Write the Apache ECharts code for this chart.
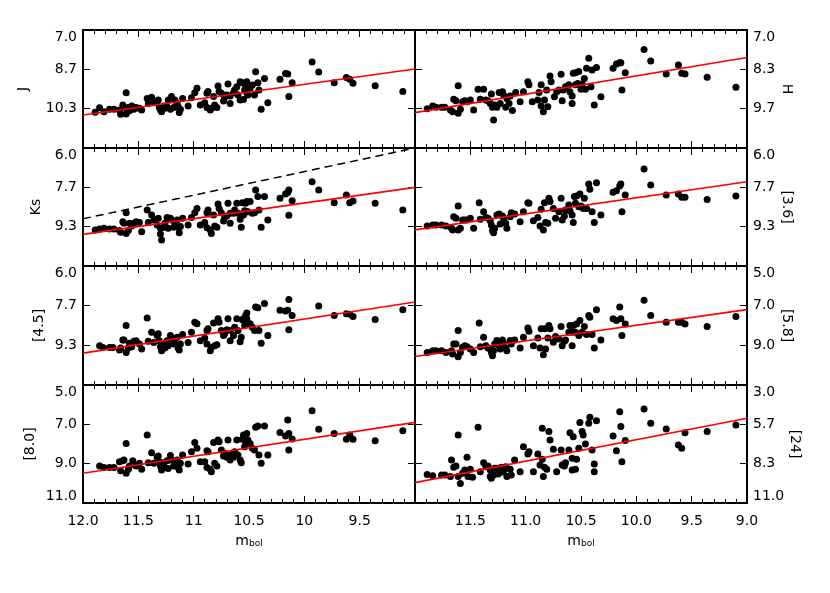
<!DOCTYPE html>
<html>
<head>
<meta charset="utf-8">
<script src="https://cdn.jsdelivr.net/npm/echarts@6/dist/echarts.min.js"></script>
<style>
  html, body { margin: 0; padding: 0; background: #fff; }
  #main { width: 830px; height: 593px; }
</style>
</head>
<body>
<div id="main"></div>
<script>
// x: m_bol (shared by all panels), y: magnitude in each band
const mbolTicks = [12, 11.5, 11, 10.5, 10, 9.5, 9]
const xLabelsLeft = ['12.0', '11.5', '11', '10.5', '10', '9.5', '']
const xLabelsRight = ['', '11.5', '11.0', '10.5', '10.0', '9.5', '9.0']

const bands = ['J', 'H', 'Ks', '[3.6]', '[4.5]', '[5.8]', '[8.0]', '[24]']
const yMin = [7, 7, 6, 6, 6, 5, 5, 3]
const yMax = [12, 11, 11, 11, 11, 11, 11, 11]
const yTicks = [
  [7.0, 8.6667, 10.3333, 12.0],
  [7.0, 8.3333, 9.6667, 11.0],
  [6.0, 7.6667, 9.3333, 11.0],
  [6.0, 7.6667, 9.3333, 11.0],
  [6.0, 7.6667, 9.3333, 11.0],
  [5.0, 7.0, 9.0, 11.0],
  [5.0, 7.0, 9.0, 11.0],
  [3.0, 5.6667, 8.3333, 11.0]
]

const jData = [[11.89,10.49],[11.85,10.29],[11.81,10.46],[11.76,10.36],[11.72,10.36],[11.67,10.39],[11.66,10.57],[11.64,10.18],[11.63,10.28],[11.61,9.66],[11.61,10.56],[11.59,10.28],[11.58,10.42],[11.56,10.22],[11.54,10.36],[11.52,10.28],[11.49,10.32],[11.47,10.39],[11.42,9.90],[11.41,10.11],[11.38,9.85],[11.36,10.08],[11.33,10.04],[11.32,9.97],[11.31,10.28],[11.30,10.39],[11.29,10.46],[11.27,10.22],[11.26,10.32],[11.24,10.25],[11.23,9.97],[11.21,10.36],[11.20,9.82],[11.18,10.28],[11.17,9.97],[11.15,10.11],[11.14,10.25],[11.13,10.50],[11.12,10.36],[11.10,9.90],[11.05,10.22],[11.02,9.87],[10.99,9.66],[10.97,9.47],[10.94,10.18],[10.90,10.08],[10.88,9.68],[10.88,10.28],[10.87,9.61],[10.85,10.39],[10.84,10.32],[10.82,9.82],[10.81,10.18],[10.79,10.28],[10.78,9.37],[10.77,9.61],[10.75,9.68],[10.73,10.01],[10.72,9.85],[10.70,9.75],[10.69,9.29],[10.67,9.80],[10.67,10.11],[10.64,9.66],[10.63,9.54],[10.61,9.40],[10.60,9.75],[10.58,9.97],[10.58,9.19],[10.56,9.23],[10.55,9.94],[10.54,9.54],[10.53,9.40],[10.52,9.19],[10.52,9.66],[10.51,9.75],[10.49,9.47],[10.47,9.33],[10.45,9.75],[10.44,8.77],[10.42,9.23],[10.41,9.54],[10.39,10.36],[10.36,9.05],[10.33,10.08],[10.22,9.09],[10.17,8.84],[10.15,8.86],[10.14,9.82],[10.11,9.23],[9.93,8.36],[9.87,8.78],[9.73,9.23],[9.62,9.01],[9.59,9.09],[9.56,9.26],[9.36,9.36],[9.11,9.61]]

const hData = [[11.89,9.67],[11.84,9.58],[11.81,9.62],[11.76,9.62],[11.73,9.62],[11.68,9.71],[11.66,9.77],[11.65,9.35],[11.63,9.40],[11.61,8.89],[11.61,9.82],[11.59,9.69],[11.57,9.43],[11.55,9.40],[11.53,9.43],[11.50,9.37],[11.47,9.71],[11.43,9.01],[11.41,9.35],[11.38,9.01],[11.36,9.37],[11.34,9.40],[11.32,9.49],[11.31,9.17],[11.30,9.62],[11.29,10.05],[11.28,9.54],[11.26,9.62],[11.24,9.12],[11.23,9.49],[11.21,9.09],[11.20,9.20],[11.18,9.62],[11.17,9.32],[11.15,9.49],[11.14,9.24],[11.12,9.73],[11.09,9.12],[11.05,9.43],[11.02,9.09],[10.98,8.75],[10.97,8.86],[10.94,9.43],[10.89,9.37],[10.88,9.12],[10.86,9.58],[10.86,8.86],[10.84,9.77],[10.83,9.37],[10.81,9.03],[10.80,9.60],[10.78,8.56],[10.77,8.75],[10.74,9.26],[10.72,9.09],[10.70,9.03],[10.68,8.50],[10.67,9.40],[10.66,9.03],[10.64,8.92],[10.61,8.86],[10.60,9.09],[10.58,9.24],[10.58,9.49],[10.57,8.47],[10.55,8.86],[10.55,8.45],[10.53,8.81],[10.52,8.41],[10.50,9.01],[10.49,8.83],[10.47,8.64],[10.46,9.01],[10.45,8.30],[10.43,7.96],[10.41,8.92],[10.40,8.36],[10.38,9.54],[10.36,8.27],[10.32,9.26],[10.21,8.30],[10.18,8.15],[10.15,8.11],[10.14,8.11],[10.13,9.03],[10.10,8.45],[9.93,7.66],[9.87,8.05],[9.73,8.49],[9.62,8.19],[9.59,8.47],[9.56,8.49],[9.36,8.60],[9.10,8.94]]

const ksData = [[11.89,9.47],[11.85,9.43],[11.81,9.40],[11.76,9.43],[11.72,9.43],[11.67,9.50],[11.66,9.57],[11.64,9.12],[11.63,9.19],[11.61,8.74],[11.61,9.62],[11.59,9.50],[11.58,9.19],[11.56,9.31],[11.54,9.19],[11.52,9.12],[11.49,9.16],[11.47,9.55],[11.42,8.63],[11.41,9.16],[11.38,8.84],[11.36,9.05],[11.33,9.26],[11.32,8.98],[11.30,9.40],[11.30,9.64],[11.29,9.90],[11.27,9.36],[11.26,9.19],[11.24,8.94],[11.23,9.40],[11.21,8.98],[11.20,9.05],[11.18,9.36],[11.17,9.16],[11.15,9.05],[11.14,9.36],[11.13,9.59],[11.12,9.33],[11.10,8.98],[11.05,9.26],[11.02,8.94],[10.99,8.74],[10.97,8.56],[10.94,9.26],[10.90,9.16],[10.88,8.74],[10.88,9.38],[10.87,8.63],[10.85,9.47],[10.84,9.62],[10.82,8.84],[10.81,9.31],[10.79,9.36],[10.78,8.37],[10.77,8.56],[10.75,8.74],[10.73,9.09],[10.72,8.94],[10.70,8.88],[10.69,8.34],[10.67,8.77],[10.67,9.19],[10.64,8.77],[10.63,8.63],[10.61,8.34],[10.60,8.77],[10.58,9.02],[10.57,9.36],[10.56,8.32],[10.55,8.84],[10.54,8.66],[10.53,8.34],[10.52,8.27],[10.52,8.70],[10.51,8.70],[10.49,8.27],[10.47,8.77],[10.45,8.74],[10.44,7.78],[10.42,8.06],[10.41,8.63],[10.39,9.36],[10.36,8.06],[10.33,9.05],[10.22,8.13],[10.17,7.95],[10.15,7.89],[10.14,7.78],[10.14,8.85],[10.11,8.23],[9.93,7.43],[9.87,7.78],[9.73,8.32],[9.62,7.99],[9.59,8.32],[9.56,8.25],[9.36,8.34],[9.11,8.63]]

const irac1Data = [[11.89,9.31],[11.84,9.26],[11.81,9.26],[11.76,9.26],[11.72,9.31],[11.67,9.40],[11.66,9.47],[11.65,8.91],[11.63,8.98],[11.61,8.46],[11.61,9.47],[11.59,9.40],[11.57,9.05],[11.55,9.05],[11.53,9.05],[11.50,8.98],[11.47,9.40],[11.42,8.32],[11.41,9.02],[11.38,8.70],[11.36,8.94],[11.34,8.98],[11.32,9.08],[11.31,9.26],[11.30,9.50],[11.29,9.59],[11.28,9.40],[11.26,8.84],[11.24,8.80],[11.23,9.22],[11.21,8.88],[11.20,8.98],[11.18,9.19],[11.17,9.40],[11.14,8.91],[11.13,8.74],[11.10,8.80],[11.05,9.12],[11.02,8.70],[10.98,8.32],[10.97,8.34],[10.93,9.08],[10.89,8.94],[10.87,9.31],[10.86,8.60],[10.84,9.47],[10.83,8.32],[10.82,9.16],[10.80,9.19],[10.79,8.13],[10.78,8.27],[10.75,8.56],[10.73,8.98],[10.70,8.70],[10.68,8.13],[10.67,9.05],[10.65,8.88],[10.64,8.63],[10.61,8.42],[10.60,8.66],[10.58,8.84],[10.57,9.16],[10.56,8.06],[10.55,8.34],[10.54,8.03],[10.52,8.49],[10.51,7.95],[10.50,8.46],[10.48,8.56],[10.47,8.13],[10.45,8.56],[10.43,7.53],[10.42,7.75],[10.40,8.70],[10.38,9.16],[10.36,7.47],[10.32,8.84],[10.21,7.88],[10.18,7.81],[10.15,7.61],[10.14,7.53],[10.13,8.70],[10.10,7.99],[9.93,6.89],[9.87,7.57],[9.73,7.99],[9.62,7.95],[9.59,8.09],[9.56,8.09],[9.36,8.18],[9.10,8.03]]

const irac2Data = [[11.85,9.35],[11.82,9.42],[11.76,9.42],[11.73,9.42],[11.67,9.53],[11.66,9.45],[11.64,9.11],[11.63,9.11],[11.61,8.50],[11.61,9.63],[11.59,9.45],[11.58,9.25],[11.56,9.39],[11.54,9.16],[11.52,9.14],[11.49,9.28],[11.47,9.49],[11.42,8.18],[11.41,9.16],[11.38,8.78],[11.36,9.21],[11.33,8.92],[11.32,8.85],[11.31,9.14],[11.30,9.39],[11.29,9.56],[11.27,9.28],[11.26,9.45],[11.24,9.14],[11.23,9.35],[11.21,8.92],[11.20,9.06],[11.18,9.28],[11.17,9.21],[11.15,8.99],[11.14,9.45],[11.13,9.53],[11.12,9.28],[11.10,8.88],[11.05,9.21],[11.02,8.78],[10.99,8.36],[10.97,8.43],[10.94,9.14],[10.90,9.02],[10.88,8.71],[10.88,9.28],[10.87,8.64],[10.85,9.56],[10.84,9.42],[10.82,8.40],[10.81,9.35],[10.79,9.31],[10.78,8.22],[10.77,8.36],[10.75,8.71],[10.73,8.92],[10.72,8.85],[10.70,8.68],[10.69,8.22],[10.67,8.71],[10.67,9.14],[10.64,8.92],[10.63,8.57],[10.61,8.22],[10.60,8.71],[10.58,9.18],[10.57,8.99],[10.56,8.26],[10.55,8.22],[10.54,8.50],[10.53,8.08],[10.52,7.98],[10.52,8.22],[10.51,8.43],[10.49,8.43],[10.47,8.57],[10.45,8.71],[10.44,7.72],[10.42,7.75],[10.41,8.71],[10.39,9.25],[10.36,7.58],[10.33,8.92],[10.22,7.86],[10.17,7.89],[10.15,7.86],[10.14,7.41],[10.14,8.68],[10.11,8.08],[9.87,7.68],[9.73,8.08],[9.62,8.01],[9.59,8.03],[9.56,8.12],[9.36,8.25],[9.11,7.84]]

const irac3Data = [[11.89,9.36],[11.84,9.27],[11.81,9.27],[11.76,9.27],[11.72,9.36],[11.67,9.27],[11.66,9.44],[11.65,8.93],[11.63,8.93],[11.61,8.25],[11.61,9.58],[11.59,9.36],[11.57,9.10],[11.55,9.02],[11.53,9.07],[11.50,9.19],[11.47,9.36],[11.42,7.88],[11.41,9.07],[11.38,8.59],[11.36,9.02],[11.34,9.14],[11.32,9.19],[11.31,9.36],[11.30,9.53],[11.29,9.27],[11.28,8.93],[11.26,8.76],[11.24,9.02],[11.23,9.19],[11.21,8.73],[11.20,8.90],[11.18,9.14],[11.17,9.27],[11.14,8.76],[11.13,8.93],[11.10,8.73],[11.05,9.14],[11.02,8.59],[10.98,8.12],[10.97,8.29],[10.93,9.02],[10.89,8.63],[10.87,9.14],[10.86,8.17],[10.84,9.47],[10.83,8.17],[10.82,9.19],[10.80,8.63],[10.79,8.00],[10.78,8.17],[10.75,8.85],[10.73,8.56],[10.70,8.68],[10.68,8.05],[10.67,9.02],[10.65,8.80],[10.64,8.73],[10.61,8.34],[10.60,8.00],[10.58,8.34],[10.58,9.02],[10.57,8.00],[10.55,8.34],[10.54,7.92],[10.52,8.51],[10.51,7.75],[10.49,8.34],[10.47,8.05],[10.45,8.46],[10.43,7.49],[10.42,7.58],[10.40,8.46],[10.38,9.14],[10.36,7.20],[10.32,8.73],[10.21,7.66],[10.18,7.75],[10.15,7.07],[10.14,7.66],[10.13,8.51],[10.10,7.92],[9.93,6.73],[9.87,7.49],[9.73,7.83],[9.62,7.83],[9.59,7.83],[9.56,7.92],[9.36,8.05],[9.10,7.54]]

const irac4Data = [[11.85,9.12],[11.81,9.19],[11.76,9.19],[11.72,9.19],[11.67,8.90],[11.66,9.36],[11.64,8.85],[11.63,8.81],[11.61,7.97],[11.61,9.49],[11.59,9.29],[11.58,9.12],[11.55,8.85],[11.52,9.12],[11.49,8.98],[11.47,9.29],[11.42,7.54],[11.41,8.95],[11.38,8.44],[11.36,8.98],[11.33,8.68],[11.32,8.61],[11.31,8.90],[11.30,9.12],[11.29,9.32],[11.27,8.95],[11.26,9.19],[11.24,8.85],[11.23,9.24],[11.21,8.58],[11.20,8.81],[11.18,9.12],[11.17,8.95],[11.15,8.81],[11.14,9.19],[11.13,9.32],[11.12,8.98],[11.10,8.56],[11.05,9.02],[11.02,8.39],[10.99,7.93],[10.97,8.22],[10.94,8.90],[10.90,8.90],[10.88,8.34],[10.88,9.19],[10.87,8.39],[10.85,9.29],[10.84,9.41],[10.82,7.92],[10.81,8.98],[10.79,9.12],[10.78,7.80],[10.77,7.88],[10.75,8.31],[10.73,8.61],[10.72,8.47],[10.70,8.68],[10.69,7.80],[10.67,8.56],[10.67,8.81],[10.64,8.68],[10.63,8.39],[10.61,7.80],[10.60,8.56],[10.58,8.81],[10.57,8.95],[10.56,7.76],[10.55,7.54],[10.54,8.14],[10.53,7.93],[10.52,7.46],[10.52,7.93],[10.51,7.80],[10.49,7.97],[10.47,8.22],[10.45,8.31],[10.44,7.15],[10.42,7.08],[10.41,8.56],[10.39,8.98],[10.36,7.08],[10.33,8.56],[10.22,7.41],[10.17,7.59],[10.15,6.78],[10.14,7.46],[10.14,8.31],[10.11,7.75],[9.93,6.31],[9.87,7.25],[9.73,7.46],[9.62,7.76],[9.59,7.54],[9.56,7.76],[9.36,7.83],[9.11,7.32]]

const mips24Data = [[11.89,9.06],[11.84,9.15],[11.76,9.10],[11.73,9.10],[11.68,9.21],[11.67,8.08],[11.65,8.58],[11.63,8.49],[11.61,6.39],[11.61,9.21],[11.59,9.67],[11.57,8.99],[11.55,8.76],[11.53,7.90],[11.52,9.21],[11.50,8.72],[11.48,9.26],[11.43,5.87],[11.41,8.88],[11.38,8.27],[11.36,8.54],[11.34,8.49],[11.32,8.76],[11.32,9.21],[11.31,9.33],[11.29,9.10],[11.28,8.65],[11.26,8.65],[11.25,9.03],[11.23,8.94],[11.22,8.58],[11.20,8.88],[11.18,8.54],[11.17,9.21],[11.14,8.72],[11.13,9.10],[11.10,8.08],[11.05,8.88],[11.02,7.18],[10.98,7.68],[10.97,7.52],[10.93,8.88],[10.89,7.68],[10.87,8.42],[10.85,5.94],[10.85,8.04],[10.84,9.21],[10.83,8.58],[10.81,8.72],[10.79,6.16],[10.78,6.73],[10.75,7.36],[10.72,8.88],[10.68,7.41],[10.67,8.42],[10.65,8.49],[10.64,8.27],[10.61,7.41],[10.60,6.23],[10.58,7.97],[10.58,8.76],[10.57,6.50],[10.55,8.72],[10.54,8.04],[10.52,7.29],[10.51,5.55],[10.49,6.16],[10.48,6.39],[10.46,7.00],[10.43,5.60],[10.42,5.19],[10.40,7.41],[10.38,8.36],[10.38,8.88],[10.36,5.42],[10.21,6.46],[10.18,7.45],[10.15,4.81],[10.14,5.82],[10.13,8.20],[10.10,6.77],[9.93,4.63],[9.87,5.60],[9.73,5.98],[9.62,7.07],[9.59,7.29],[9.56,6.23],[9.36,6.16],[9.10,5.71]]

// red fitted lines, end points at mbol = 12 and 9
const fitLines = [
  [[12, 10.60], [9, 8.65]],
  [[12, 9.80], [9, 7.93]],
  [[12, 9.66], [9, 7.67]],
  [[12, 9.47], [9, 7.43]],
  [[12, 9.66], [9, 7.51]],
  [[12, 9.56], [9, 7.20]],
  [[12, 9.49], [9, 6.90]],
  [[12, 9.62], [9, 5.26]]
]
// dashed reference line in the Ks panel
const ksDashed = [[12, 9.0], [9, 6.0]]

const panelData = [jData, hData, ksData, irac1Data, irac2Data, irac3Data, irac4Data, mips24Data]

const font = 'DejaVu Sans'
const colLeft = [83, 415]
const rowTop = [30, 148, 266, 385]
const rowH = [118, 118, 119, 118]
const nameGaps = [53, 30, 40, 30, 37, 30, 46, 40]

let grid = []
let xAxis = []
let yAxis = []
let series = []

for (let i = 0; i < 8; i++) {
  const col = i % 2
  const row = Math.floor(i / 2)
  const isBottom = row === 3
  grid.push({
    left: colLeft[col], top: rowTop[row], width: 332, height: rowH[row],
    show: true, borderColor: '#000', borderWidth: 2, backgroundColor: 'transparent'
  })

  const xl = col === 0 ? xLabelsLeft : xLabelsRight
  const xBase = {
    gridIndex: i, type: 'value', min: 9, max: 12, inverse: true, interval: 0.5,
    axisLine: { show: false },
    splitLine: { show: false },
    axisTick: { show: true, inside: true, length: 7, lineStyle: { color: '#000', width: 1 } },
    minorTick: { show: true, splitNumber: 5, length: 4, lineStyle: { color: '#000', width: 1 } }
  }
  xAxis.push(Object.assign({}, xBase, {
    position: 'bottom',
    axisLabel: {
      show: isBottom, margin: 11, color: '#000', fontSize: 14, fontFamily: font,
      formatter: function (v) { return xl[Math.round((12 - v) * 2)] }
    },
    name: isBottom ? '{m|m}{s|bol}' : '',
    nameLocation: 'middle',
    nameGap: 31,
    nameTextStyle: {
      color: '#000',
      rich: {
        m: { fontSize: 14, fontFamily: font, color: '#000', lineHeight: 14, verticalAlign: 'top' },
        s: { fontSize: 9, fontFamily: font, color: '#000', lineHeight: 9, verticalAlign: 'bottom' }
      }
    }
  }))
  xAxis.push(Object.assign({}, xBase, { position: 'top', axisLabel: { show: false } }))

  const labelVals = isBottom ? yTicks[i] : yTicks[i].slice(0, 3)
  const yLabel = {
    show: true, customValues: labelVals, margin: 6, color: '#000', fontSize: 14, fontFamily: font,
    formatter: function (v) { return v.toFixed(1) },
    verticalAlignMinLabel: 'top'
  }
  if (isBottom) yLabel.verticalAlignMaxLabel = 'bottom'
  const yBase = {
    gridIndex: i, type: 'value', min: yMin[i], max: yMax[i], inverse: true,
    axisLine: { show: false },
    splitLine: { show: false },
    axisTick: { show: true, inside: true, length: 7, customValues: yTicks[i], lineStyle: { color: '#000', width: 1 } }
  }
  const nameOpts = {
    name: bands[i], nameLocation: 'middle', nameGap: nameGaps[i],
    nameRotate: col === 0 ? 90 : -90,
    nameTextStyle: { color: '#000', fontSize: 14, fontFamily: font }
  }
  yAxis.push(Object.assign({}, yBase, { position: 'left' },
    col === 0 ? Object.assign({ axisLabel: yLabel }, nameOpts) : { axisLabel: { show: false } }))
  yAxis.push(Object.assign({}, yBase, { position: 'right' },
    col === 1 ? Object.assign({ axisLabel: yLabel }, nameOpts) : { axisLabel: { show: false } }))

  series.push({
    type: 'scatter', xAxisIndex: 2 * i, yAxisIndex: 2 * i,
    data: panelData[i], symbolSize: 7,
    itemStyle: { color: '#000', opacity: 1 }, z: 2
  })
  series.push({
    type: 'line', xAxisIndex: 2 * i, yAxisIndex: 2 * i,
    data: fitLines[i], symbol: 'none',
    lineStyle: { color: '#ff0000', width: 1.6 }, z: 3
  })
  if (bands[i] === 'Ks') {
    series.push({
      type: 'line', xAxisIndex: 2 * i, yAxisIndex: 2 * i,
      data: ksDashed, symbol: 'none',
      lineStyle: { color: '#000', width: 1.5, type: [8, 5] }, z: 3
    })
  }
}

let myChart = echarts.init(document.getElementById('main'), null, { renderer: 'canvas' })
myChart.setOption({
  backgroundColor: '#fff',
  animation: false,
  grid: grid,
  xAxis: xAxis,
  yAxis: yAxis,
  series: series
})
</script>
</body>
</html>
